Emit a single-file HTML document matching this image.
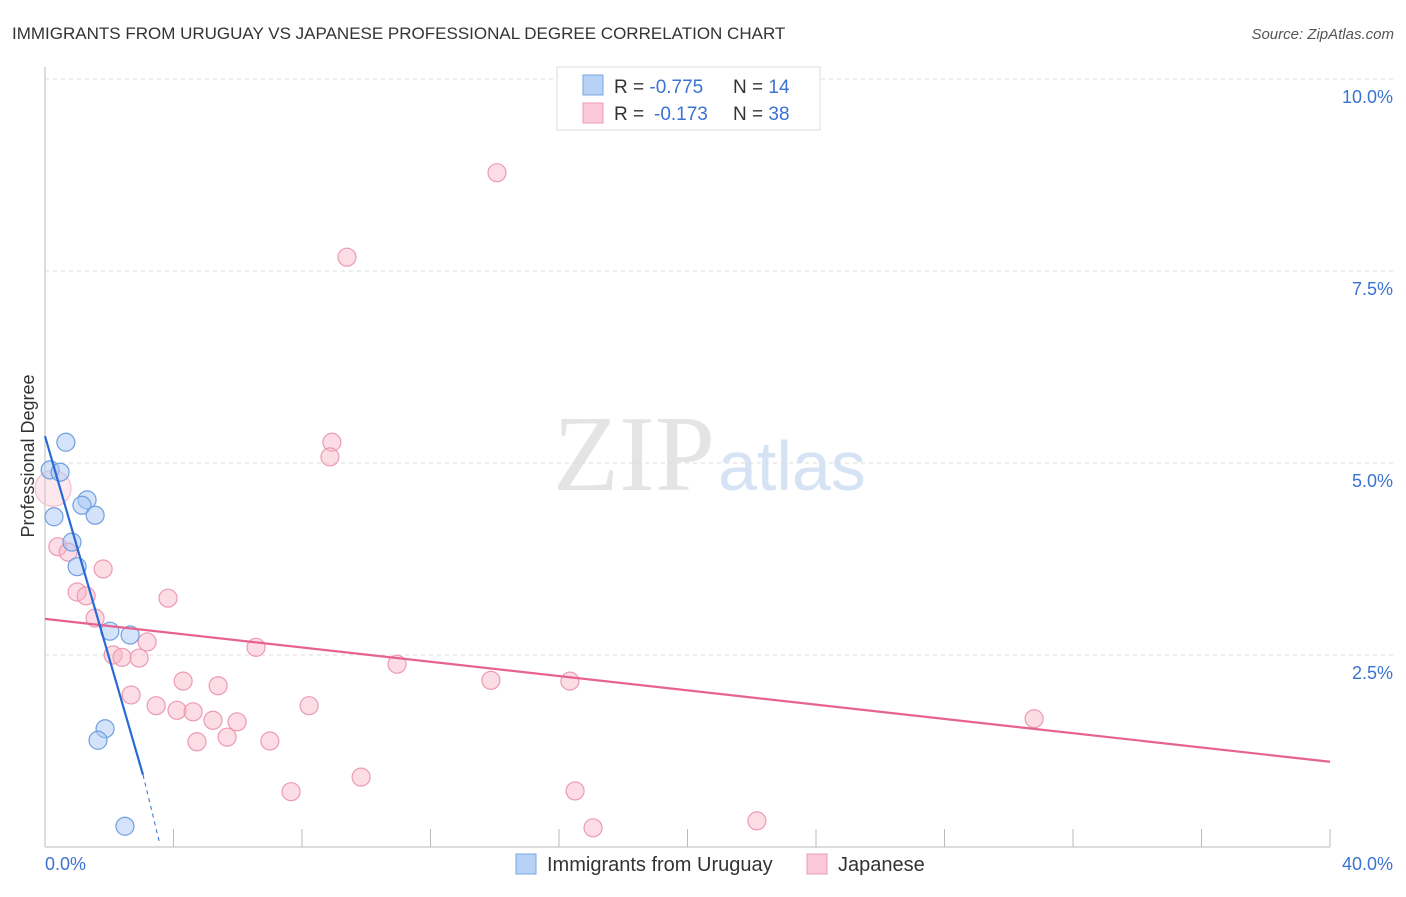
<!DOCTYPE html>
<html><head><meta charset="utf-8"><style>
body{margin:0;background:#fff;font-family:"Liberation Sans",sans-serif}
</style></head><body>
<svg id="c" width="1406" height="892" xmlns="http://www.w3.org/2000/svg" font-family="Liberation Sans, sans-serif">
<text x="12" y="39" font-size="17" fill="#333">IMMIGRANTS FROM URUGUAY VS JAPANESE PROFESSIONAL DEGREE CORRELATION CHART</text>
<text x="1394" y="39" font-size="15" fill="#555" font-style="italic" text-anchor="end">Source: ZipAtlas.com</text>
<text x="553" y="490" font-size="108" fill="#e4e4e4" font-family="Liberation Serif, serif">ZIP</text>
<text x="718" y="490" font-size="70" fill="#d6e3f5">atlas</text>
<text transform="translate(34,456) rotate(-90)" font-size="18" fill="#333" text-anchor="middle">Professional Degree</text>
<g id="grid"></g><g id="marks"></g>
<g>
<rect x="557" y="67" width="263" height="63" fill="#fff" stroke="#ddd"/>
<rect x="583" y="75" width="20" height="20" fill="#b8d2f5" stroke="#7aa6e6"/>
<rect x="583" y="103" width="20" height="20" fill="#fbc9d8" stroke="#ee9ab4"/>
<text x="614" y="93" font-size="19" fill="#333">R = <tspan fill="#3b73d1">-0.775</tspan><tspan x="733">N = </tspan><tspan fill="#3b73d1">14</tspan></text>
<text x="614" y="120" font-size="19" fill="#333">R = <tspan x="654" fill="#3b73d1">-0.173</tspan><tspan x="733">N = </tspan><tspan fill="#3b73d1">38</tspan></text>
</g>
<g>
<rect x="516" y="854" width="20" height="20" fill="#b8d2f5" stroke="#7aa6e6"/>
<text x="547" y="871" font-size="20" fill="#333">Immigrants from Uruguay</text>
<rect x="807" y="854" width="20" height="20" fill="#fbc9d8" stroke="#ee9ab4"/>
<text x="838" y="871" font-size="20" fill="#333">Japanese</text>
</g>
</svg>
<script>
const yTicks=[2.5,5,7.5,10];
const yTickLabels=["2.5%","5.0%","7.5%","10.0%"];
const xTicks=[0,4,8,12,16,20,24,28,32,36,40];
const blueX=[0.65,0.16,0.47,1.31,1.15,1.56,0.28,0.84,1.00,2.02,2.65,1.87,1.65,2.49];
const blueY=[5.27,4.91,4.88,4.52,4.45,4.32,4.30,3.97,3.65,2.81,2.76,1.54,1.39,0.27];
const pinkX=[0.25,0.40,0.72,1.81,1.00,1.28,3.83,1.56,3.18,2.12,2.40,2.93,6.57,4.30,5.39,2.68,3.46,4.11,4.61,5.23,5.98,8.22,4.73,5.67,7.00,7.66,8.93,8.87,14.07,9.40,10.96,13.88,16.34,9.84,16.50,17.06,22.16,30.79];
const pinkY=[4.67,3.91,3.84,3.62,3.32,3.27,3.24,2.98,2.67,2.50,2.47,2.46,2.60,2.16,2.10,1.98,1.84,1.78,1.76,1.65,1.63,1.84,1.37,1.43,1.38,0.72,5.27,5.08,8.78,7.68,2.38,2.17,2.16,0.91,0.73,0.25,0.34,1.67];
const blueTrend=[5.35,0.94,3.05,0.03,3.58];
const pinkTrend=[2.97,1.11];
const X=v=>45+v*32.125, Y=v=>847-v*76.8;
const NS="http://www.w3.org/2000/svg";
function mk(t,a,p){const e=document.createElementNS(NS,t);for(const k in a)e.setAttribute(k,a[k]);p.appendChild(e);return e;}
const g=document.getElementById('grid'),m=document.getElementById('marks');
let ax=mk('line',{x1:45,y1:67,x2:45,y2:847,stroke:'#bbb'},g);

let bx=mk('line',{x1:45,y1:847,x2:1330,y2:847,stroke:'#bbb'},g);

yTicks.forEach((t,i)=>{
 let l=mk('line',{x1:45,x2:1395,y1:Y(t),y2:Y(t),stroke:'#ddd','stroke-dasharray':'4,4'},g);
 
 let tx=mk('text',{x:1393,y:Y(t)+24,'font-size':18,fill:'#3b73d1','text-anchor':'end'},g);tx.textContent=yTickLabels[i];
 
});
xTicks.forEach(t=>{if(t===0)return;
 let l=mk('line',{x1:X(t),x2:X(t),y1:829,y2:847,stroke:'#bbb'},g);
 });
[[0,"0.0%",'start',45],[40,"40.0%",'end',1393]].forEach(([v,s,a,x])=>{
 let tx=mk('text',{x:x,y:870,'font-size':18,fill:'#3b73d1','text-anchor':a},g);tx.textContent=s;
 });
pinkX.forEach((x,i)=>{let c=mk('circle',{cx:X(x),cy:Y(pinkY[i]),r:i===0?18:9,fill:i===0?'rgba(248,180,200,0.3)':'rgba(248,180,200,0.45)',stroke:i===0?'#f3c0d0':'#ec9ab4','stroke-width':1.2},m);
 });
blueX.forEach((x,i)=>{let c=mk('circle',{cx:X(x),cy:Y(blueY[i]),r:9,fill:'rgba(170,200,245,0.5)',stroke:'#6f9fe0','stroke-width':1.2},m);
 });
let pl=mk('line',{x1:X(0),y1:Y(pinkTrend[0]),x2:X(40),y2:Y(pinkTrend[1]),stroke:'#e8628e','stroke-width':2.2},m);

let bl=mk('line',{x1:X(0),y1:Y(blueTrend[0]),x2:X(blueTrend[2]),y2:Y(blueTrend[1]),stroke:'#2a6ad4','stroke-width':2.2},m);

let bd=mk('line',{x1:X(blueTrend[2]),y1:Y(blueTrend[1]),x2:X(blueTrend[4]),y2:Y(blueTrend[3]),stroke:'#2a6ad4','stroke-width':1,'stroke-dasharray':'4,4'},m);

</script>
</body></html>
